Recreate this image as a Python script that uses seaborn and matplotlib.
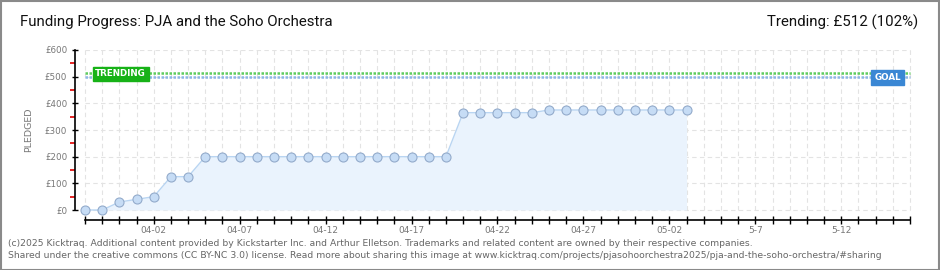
import matplotlib
matplotlib.use("Agg")
import matplotlib.pyplot as plt
import seaborn as sns
import numpy as np
import pandas as pd
from matplotlib.patches import Rectangle

# ---- data ----
n_days_axis = 49  # 03-29 .. 05-16
pledged = [0, 0, 30, 40, 50, 125, 125,
           200, 200, 200, 200, 200, 200, 200, 200, 200, 200, 200, 200, 200, 200, 200,
           365, 365, 365, 365, 365,
           375, 375, 375, 375, 375, 375, 375, 375, 375]
goal = 500
trending = 512
tick_label_idx = [4, 9, 14, 19, 24, 29, 34, 39, 44]
tick_labels = ["04-02", "04-07", "04-12", "04-17", "04-22", "04-27", "05-02", "5-7", "5-12"]
yticks = [0, 100, 200, 300, 400, 500, 600]
ytick_labels = ["£0", "£100", "£200", "£300", "£400", "£500", "£600"]
title = "Funding Progress: PJA and the Soho Orchestra"
trend_text = "Trending: £512 (102%)"
footer1 = ("(c)2025 Kicktraq. Additional content provided by Kickstarter Inc. and Arthur Elletson. "
           "Trademarks and related content are owned by their respective companies.")
footer2 = ("Shared under the creative commons (CC BY-NC 3.0) license. Read more about sharing this image at "
           "www.kicktraq.com/projects/pjasohoorchestra2025/pja-and-the-soho-orchestra/#sharing")

df = pd.DataFrame({"day": np.arange(len(pledged)), "pledged": pledged})

sns.set_theme(style="white")
plt.rcParams["font.family"] = ["DejaVu Sans"]

W, H = 940, 270
fig = plt.figure(figsize=(W / 100, H / 100), dpi=100)
fig.patch.set_facecolor("white")

# axes in pixel layout: x 75..912, y 50..220
ax = fig.add_axes([75 / W, (H - 220) / H, (912 - 75) / W, 170 / H])
ax.set_facecolor("white")
last = n_days_axis - 1
ax.set_xlim(-10 / 17.19, last + 2 / 17.19)
ax.set_ylim(-37.5, 600)

# grid (dashed), limited to data area
grid_kw = dict(color="#e3e3e3", lw=0.8, linestyle=(0, (4, 3)), zorder=0)
ax.vlines(np.arange(n_days_axis), 0, 600, **grid_kw)
ax.hlines(yticks, 0, last, **grid_kw)

# fill + line + markers
ax.fill_between(df["day"], 0, df["pledged"], color="#eaf3fd", zorder=1, lw=0)
sns.lineplot(data=df, x="day", y="pledged", ax=ax, color="#b9d5f2", lw=1,
             marker="o", markersize=6.5, markerfacecolor="#c6dcf5",
             markeredgecolor="#93abcb", markeredgewidth=0.8, zorder=3)

# goal & trending dotted lines
ax.hlines(goal, 0, last, color="#8db6e6", lw=1.8, linestyle=(0, (1, 0.6)), zorder=2)
ax.hlines(trending, 0, last, color="#5fcc5f", lw=1.8, linestyle=(0, (1, 0.6)), zorder=2)

# labels on lines
ax.text(2.07, 510, "TRENDING", color="white", fontsize=6.3, fontweight="bold",
        ha="center", va="center", zorder=5,
        bbox=dict(boxstyle="square,pad=0.3", fc="#17b217", ec="#17b217"))
ax.text(46.7, 498, "GOAL", color="white", fontsize=6.3, fontweight="bold",
        ha="center", va="center", zorder=5,
        bbox=dict(boxstyle="square,pad=0.35", fc="#3a87d4", ec="#3a87d4"))

# spines
for s in ["top", "right"]:
    ax.spines[s].set_visible(False)
ax.spines["left"].set_bounds(0, 600)
ax.spines["left"].set_color("black")
ax.spines["left"].set_linewidth(1.2)
ax.spines["bottom"].set_bounds(0, last)
ax.spines["bottom"].set_color("black")
ax.spines["bottom"].set_linewidth(1.2)

ax.set_yticks(yticks)
ax.set_yticklabels(ytick_labels)
ax.set_yticks([50, 150, 250, 350, 450, 550], minor=True)
ax.tick_params(axis="y", which="major", direction="inout", length=5, width=1, color="black",
               labelsize=6.3, labelcolor="#777777", pad=3, left=True)
ax.tick_params(axis="y", which="minor", direction="out", length=3.5, width=1.2, color="#e00000", left=True)

ax.set_xticks(np.arange(n_days_axis))
ax.set_xticklabels([tick_labels[tick_label_idx.index(i)] if i in tick_label_idx else ""
                    for i in range(n_days_axis)])
ax.tick_params(axis="x", which="major", direction="inout", length=6, width=1, color="black",
               labelsize=6.5, labelcolor="#777777", pad=1, bottom=True)
ax.set_xlabel("")
ax.set_ylabel("PLEDGED", fontsize=6.8, color="#777777")
ax.yaxis.set_label_coords((33 - 75) / 837, (220 - 130) / 170)

# titles
fig.text(20 / W, 1 - 22 / H, title, fontsize=10.8, color="#111111", ha="left", va="center",
         family=["Roboto", "DejaVu Sans"])
fig.text(918 / W, 1 - 22 / H, trend_text, fontsize=10.8, color="#111111", ha="right", va="center",
         family=["Roboto", "DejaVu Sans"])
fig.text(8 / W, 1 - 243 / H, footer1, fontsize=6.65, color="#666666", ha="left", va="center")
fig.text(8 / W, 1 - 256 / H, footer2, fontsize=6.65, color="#666666", ha="left", va="center")

# border
fig.patches.append(Rectangle((0.5 / W, 0.5 / H), 1 - 1.5 / W, 1 - 1.5 / H, transform=fig.transFigure,
                             fill=False, ec="#8a8a8a", lw=1.5))

fig.savefig("out.png", dpi=100, facecolor="white")
